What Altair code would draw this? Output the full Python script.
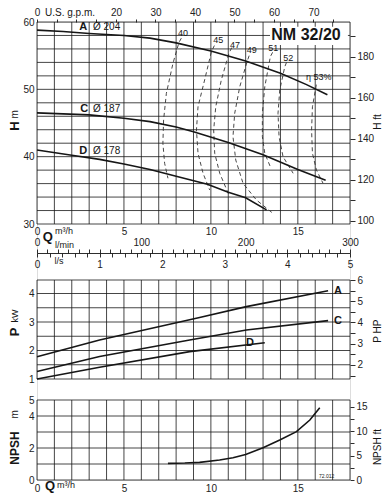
import altair as alt
import pandas as pd

# ---------------- data ----------------
# Head curves: Q (m3/h) -> H (m)
A_Q = [0, 1.5, 3, 5, 6.5, 8, 10, 12, 14, 15.5, 16.7]
A_H = [58.8, 58.6, 58.3, 58.0, 57.6, 56.9, 55.7, 54.2, 52.4, 50.7, 49.2]
C_Q = [0, 3, 5, 6.5, 8, 9, 11, 13, 15, 16.6]
C_H = [46.5, 46.2, 45.7, 45.2, 44.4, 43.7, 42.1, 40.3, 38.1, 36.5]
D_Q = [0, 2, 3.6, 5, 6.5, 8, 9.8, 11, 12, 13.2]
D_H = [41.0, 40.2, 39.6, 38.9, 38.1, 37.1, 35.9, 34.7, 33.9, 32.1]

# Iso-efficiency curves (dashed): Q, H
E40_Q = [8.3, 8.16, 7.82, 7.44, 7.28, 7.24, 7.34, 7.53]
E40_H = [57.6, 56.93, 53.87, 49.41, 45.44, 41.98, 39.01, 36.79]
E45_Q = [10.2, 10.03, 9.64, 9.26, 9.17, 9.26, 9.55, 9.93]
E45_H = [56.5, 55.59, 51.39, 47.42, 43.96, 40.5, 37.53, 35.05]
E47_Q = [11.2, 11.04, 10.6, 10.28, 10.16, 10.22, 10.51, 11.08]
E47_H = [56.2, 55.35, 51.39, 47.42, 43.96, 40.5, 37.53, 34.05]
E49_Q = [12.2, 12.08, 11.66, 11.37, 11.27, 11.43, 11.85, 12.62, 13.57]
E49_H = [55.0, 54.1, 50.39, 46.44, 42.97, 39.5, 36.04, 33.56, 31.58]
E51_Q = [13.55, 13.42, 13.1, 12.96, 12.96, 13.1, 13.45]
E51_H = [55.5, 54.85, 50.39, 46.44, 42.97, 40.5, 38.3]
E52_Q = [14.35, 14.25, 13.96, 13.86, 13.92, 14.15, 14.73]
E52_H = [54.0, 53.36, 49.9, 46.44, 42.97, 39.99, 37.53]
E53_Q = [16.06, 16.03, 15.84, 15.79, 15.84, 16.07, 16.45]
E53_H = [50.7, 50.15, 47.42, 43.96, 40.5, 38.02, 36.04]
ETA_NAMES = ["40", "45", "47", "49", "51", "52", "η 53%"]

# Power curves: Q -> P (kW)
PA_Q = [0, 3.6, 9.35, 12.04, 16.74]
PA_P = [1.78, 2.37, 3.16, 3.54, 4.10]
PC_Q = [0, 3.6, 8.78, 12.04, 16.74]
PC_P = [1.26, 1.79, 2.37, 2.72, 3.05]
PD_Q = [0, 3.6, 8.78, 13.1]
PD_P = [1.0, 1.41, 1.96, 2.27]

# NPSH curve: Q -> NPSH (m)
N_Q = [7.53, 8.5, 9.35, 10.5, 11.27, 12, 13, 13.96, 14.92, 15.69, 16.26]
N_V = [1.04, 1.06, 1.1, 1.25, 1.39, 1.6, 2.02, 2.5, 3.02, 3.75, 4.52]

CURVES = ["A", "C", "D"]
DIAMS = ["Ø 204", "Ø 187", "Ø 178"]
TITLE = "NM 32/20"

# tick / grid values
GRID_Q = list(range(0, 19))
GRID_H = list(range(30, 61, 2))
GRID_P = [1, 1.5, 2, 2.5, 3, 3.5, 4]
GRID_N = [0, 1, 2, 3, 4, 5]
Q_LABELS = [0, 5, 10, 15]
H_LABELS = [30, 40, 50, 60]
FT_TICKS = list(range(100, 200, 10))
GPM_TICKS = list(range(0, 80, 5))
LMIN_TICKS = list(range(0, 301, 10))
LS_TICKS = list(range(0, 51, 2))          # tenths of l/s
P_LABELS = [1, 2, 3, 4]
HP_TICKS = [round(1.5 + 0.5 * i, 1) for i in range(10)]
N_LABELS = [0, 2, 4, 5]
NFT_TICKS = [round(2.5 * i, 1) for i in range(7)]

# unit conversions
KW_PER_HP = 0.7457
M_PER_FT = 0.3048
GPM_PER_M3H = 4.402868
LMIN_PER_M3H = 1000 / 60
DLS_PER_M3H = 10 / 3.6

# ---------------- layout ----------------
FONT = "Liberation Sans"
INK = "#161616"
W, HT = 313, 458
QMAX = 18


def ext(v_top, py_top, v_bot, py_bot):
    s = (v_top - v_bot) / (py_bot - py_top)
    return [v_bot - s * (HT - py_bot), v_top + s * py_top]


P_TOP = 6 * KW_PER_HP
dom_H = ext(60, 0, 30, 202)
dom_P = ext(P_TOP, 258, 1, 357)
dom_N = ext(5, 378, 0, 458)


def sc(dom):
    return alt.Scale(domain=dom, nice=False, zero=False)


xQ = sc([0, QMAX])
yH, yP, yN = sc(dom_H), sc(dom_P), sc(dom_N)


def ax(orient, values, offset=0, tick=0, pad=2, expr=None, domain=False):
    kw = dict(orient=orient, values=values, offset=offset, ticks=tick > 0, tickSize=tick,
              labelPadding=pad, domain=domain, grid=False, title=None, labelFlush=False,
              labelOverlap=False, tickColor=INK, domainColor=INK, tickWidth=0.9, domainWidth=0.9,
              labelFont=FONT, labelFontSize=10, labelColor="#222")
    if expr:
        kw["labelExpr"] = expr
    return alt.Axis(**kw)


def vgrid(lo, hi, ys):
    df = pd.DataFrame({"q": GRID_Q, "lo": lo, "hi": hi})
    return alt.Chart(df).mark_rule(color=INK, strokeWidth=0.8).encode(
        x=alt.X("q:Q", scale=xQ, axis=None),
        y=alt.Y("lo:Q", scale=ys, axis=None), y2=alt.Y2("hi"))


def hgrid(vals, ys):
    df = pd.DataFrame({"v": vals, "a": 0, "b": QMAX})
    return alt.Chart(df).mark_rule(color=INK, strokeWidth=0.8).encode(
        x=alt.X("a:Q", scale=xQ, axis=None), x2=alt.X2("b"),
        y=alt.Y("v:Q", scale=ys, axis=None))


def series(pairs):
    frames = []
    for name, qs, vs in pairs:
        frames.append(pd.DataFrame({"q": qs, "v": vs, "c": name}))
    df = pd.concat(frames, ignore_index=True)
    df["i"] = range(len(df))
    return df


def lines(df, ys, **mk):
    return alt.Chart(df).mark_line(**mk).encode(
        x=alt.X("q:Q", scale=xQ, axis=None), y=alt.Y("v:Q", scale=ys, axis=None),
        detail="c:N", order="i:Q")


def texts(rows, ys, **mk):
    df = pd.DataFrame(rows, columns=["q", "v", "t"])
    base = dict(font=FONT, color=INK)
    base.update(mk)
    return alt.Chart(df).mark_text(**base).encode(
        x=alt.X("q:Q", scale=xQ, axis=None),
        y=alt.Y("v:Q", scale=ys, axis=None), text="t:N")


def axis_y(dom, axis):
    return alt.Chart(pd.DataFrame({"v": dom})).mark_point(opacity=0).encode(
        y=alt.Y("v:Q", scale=sc(dom), axis=axis))


def axis_x(dom, axis):
    return alt.Chart(pd.DataFrame({"v": dom})).mark_point(opacity=0).encode(
        x=alt.X("v:Q", scale=sc(dom), axis=axis))


# ---------------- top panel: H ----------------
head_df = series([("A", A_Q, A_H), ("C", C_Q, C_H), ("D", D_Q, D_H)])
eta_df = series([
    (ETA_NAMES[0], E40_Q, E40_H), (ETA_NAMES[1], E45_Q, E45_H), (ETA_NAMES[2], E47_Q, E47_H),
    (ETA_NAMES[3], E49_Q, E49_H), (ETA_NAMES[4], E51_Q, E51_H), (ETA_NAMES[5], E52_Q, E52_H),
    (ETA_NAMES[6], E53_Q, E53_H)])

box_df = pd.DataFrame({"a": [13.4], "b": [17.88], "lo": [56.58], "hi": [59.3]})
box = alt.Chart(box_df).mark_rect(fill="white").encode(
    x=alt.X("a:Q", scale=xQ, axis=None), x2=alt.X2("b"),
    y=alt.Y("lo:Q", scale=yH, axis=None), y2=alt.Y2("hi"))

top = alt.layer(
    vgrid(30, 60, yH), hgrid(GRID_H, yH), box,
    lines(eta_df, yH, color="#333", strokeWidth=0.9, strokeDash=[4, 3]),
    lines(head_df, yH, color=INK, strokeWidth=1.6),
    texts([(15.47, 58.0, TITLE)], yH, fontSize=16, fontWeight="bold"),
    texts([(2.66, 59.3, CURVES[0]), (2.72, 47.03, CURVES[1]), (2.66, 40.89, CURVES[2])], yH,
          fontSize=11, fontWeight="bold"),
    texts([(3.22, 59.3, DIAMS[0]), (3.22, 47.03, DIAMS[1]), (3.22, 40.89, DIAMS[2])], yH,
          fontSize=10, align="left"),
    texts([(8.4, 58.37, ETA_NAMES[0]), (10.43, 57.28, ETA_NAMES[1]), (11.39, 56.58, ETA_NAMES[2]),
           (12.35, 55.84, ETA_NAMES[3]), (13.59, 56.09, ETA_NAMES[4]), (14.45, 54.6, ETA_NAMES[5]),
           (16.2, 51.88, ETA_NAMES[6])], yH, fontSize=9),
    texts([(-1.265, 44.55, "H")], yH, fontSize=13, fontWeight="bold", angle=270),
    texts([(-1.265, 46.3, "m")], yH, fontSize=10, angle=270),
    texts([(19.61, 45.15, "H ft")], yH, fontSize=10, angle=270),
    texts([(0.46, 61.35, "U.S. g.p.m.")], yH, fontSize=10, align="left"),
    texts([(0.62, 28.0, "Q")], yH, fontSize=13, fontWeight="bold"),
    texts([(1.04, 29.0, "m³/h")], yH, fontSize=9, align="left"),
    texts([(1.04, 26.88, "l/min")], yH, fontSize=9, align="left"),
    texts([(1.0, 24.5, "l/s")], yH, fontSize=9, align="left"),
)

top_q = axis_x([0, QMAX], ax("bottom", Q_LABELS, offset=202 - HT, pad=2))
top_h = axis_y(dom_H, ax("left", H_LABELS, pad=3))
top_ft = axis_y([d / M_PER_FT for d in dom_H],
                ax("right", FT_TICKS, tick=5, pad=2, expr="datum.value % 20 == 0 ? datum.label : ''"))
top_gpm = axis_x([0, QMAX * GPM_PER_M3H],
                 ax("top", GPM_TICKS, tick=3, pad=2,
                    expr="(datum.value % 10 == 0 && datum.value != 10) ? datum.label : ''"))
lmin = axis_x([0, QMAX * LMIN_PER_M3H],
              ax("top", LMIN_TICKS, offset=-231, tick=4, pad=2, domain=True,
                 expr="datum.value % 100 == 0 ? datum.label : ''"))
ls = axis_x([0, QMAX * DLS_PER_M3H],
            ax("bottom", LS_TICKS, offset=231 - HT, tick=4, pad=2,
               expr="datum.value % 10 == 0 ? '' + (datum.value / 10) : ''"))

# ---------------- middle panel: P ----------------
p_df = series([("A", PA_Q, PA_P), ("C", PC_Q, PC_P), ("D", PD_Q, PD_P)])
mid = alt.layer(
    vgrid(1, P_TOP, yP), hgrid(GRID_P + [P_TOP], yP),
    lines(p_df, yP, color=INK, strokeWidth=1.6),
    texts([(17.31, 4.09, CURVES[0]), (17.31, 3.04, CURVES[1]), (12.25, 2.26, CURVES[2])], yP,
          fontSize=11, fontWeight="bold"),
    texts([(-1.265, 2.65, "P")], yP, fontSize=13, fontWeight="bold", angle=270),
    texts([(-1.265, 3.21, "kW")], yP, fontSize=9, angle=270),
    texts([(19.61, 2.68, "P HP")], yP, fontSize=10, angle=270),
)
mid_p = axis_y(dom_P, ax("left", P_LABELS, pad=3))
mid_hp = axis_y([d / KW_PER_HP for d in dom_P],
                ax("right", HP_TICKS, tick=5, pad=2, expr="datum.value % 1 == 0 ? datum.label : ''"))

# ---------------- bottom panel: NPSH ----------------
n_df = series([("N", N_Q, N_V)])
bot = alt.layer(
    vgrid(0, 5, yN), hgrid(GRID_N, yN),
    lines(n_df, yN, color=INK, strokeWidth=1.6),
    texts([(-1.265, 2.0, "NPSH")], yN, fontSize=12, fontWeight="bold", angle=270),
    texts([(-1.265, 4.1, "m")], yN, fontSize=10, angle=270),
    texts([(19.61, 2.06, "NPSH ft")], yN, fontSize=10, angle=270),
    texts([(0.75, -0.35, "Q")], yN, fontSize=13, fontWeight="bold"),
    texts([(1.15, -0.3, "m³/h")], yN, fontSize=9, align="left"),
    texts([(16.66, 0.22, "72.012")], yN, fontSize=5),
)
bot_q = axis_x([0, QMAX], ax("bottom", Q_LABELS, pad=3))
bot_n = axis_y(dom_N, ax("left", N_LABELS, pad=3))
bot_ft = axis_y([d / M_PER_FT for d in dom_N],
                ax("right", NFT_TICKS, tick=4, pad=2, expr="datum.value % 5 == 0 ? datum.label : ''"))

chart = alt.layer(
    top, top_q, top_h, top_ft, top_gpm, lmin, ls,
    mid, mid_p, mid_hp,
    bot, bot_q, bot_n, bot_ft
).resolve_scale(x="independent", y="independent").properties(
    width=W, height=HT,
    autosize=alt.AutoSizeParams(type="none"),
    padding={"left": 29, "top": 14, "right": 32, "bottom": 15},
).configure_view(stroke=None).configure(background="white")

chart.save("out.html", embed_options={"renderer": "svg", "actions": False})
